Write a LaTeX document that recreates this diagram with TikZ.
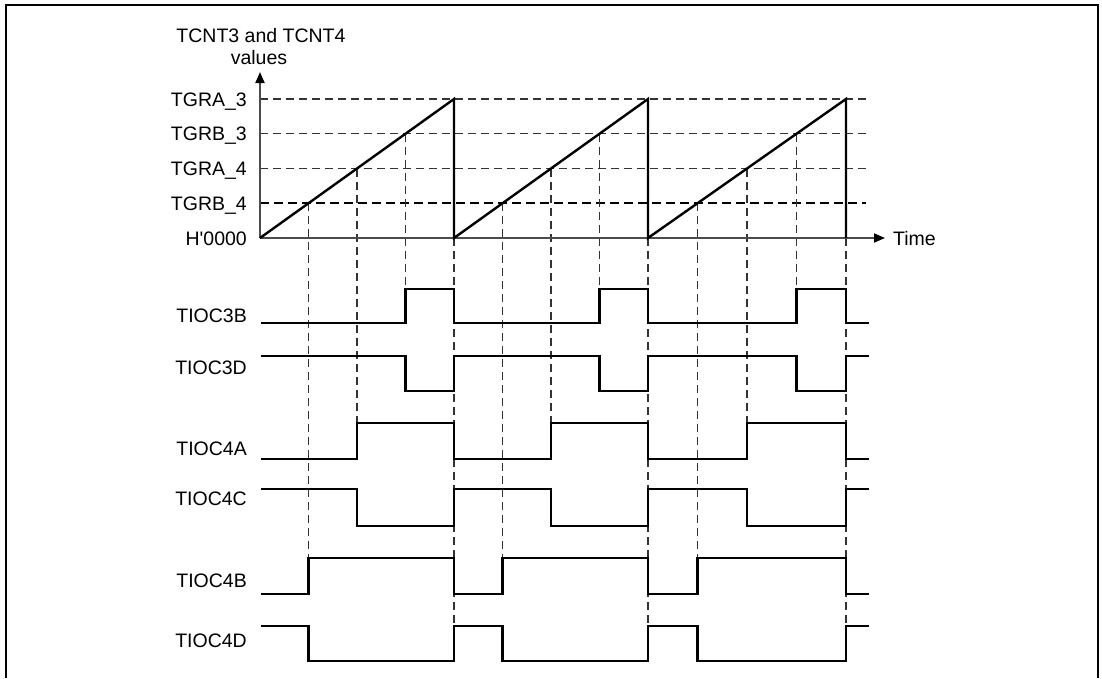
\documentclass[tikz,border=0pt]{standalone}
\usepackage{fontspec}
\setmainfont{Liberation Sans}
\newfontfamily\plainsans{Liberation Sans}
\usetikzlibrary{arrows.meta}
\tikzset{
  wave/.style={line width=2.6pt, black, line join=miter},
  rampline/.style={line width=2.4pt, black, line join=miter},
  axisline/.style={line width=1.8pt, black!70},
  guide/.style={line width=1.2pt, black!80, dash pattern=on 8pt off 5pt},
  guidebold/.style={line width=2pt, black, dash pattern=on 9pt off 5pt},
  lbl/.style={font=\fontsize{19.5}{23}\selectfont, inner sep=0pt, text height=14pt, text depth=0pt},
  frameline/.style={line width=2pt, black},
  tip/.style={-{Triangle[length=11pt,width=9pt,fill=black,color=black]}}
}
\begin{document}
\begin{tikzpicture}[x=1pt,y=-1pt]
\useasboundingbox (0,0) rectangle (1102,678);
% frame (open at the bottom)
\coordinate (fbl) at (6,678);
\coordinate (ftl) at (6,5);
\coordinate (ftr) at (1098,5);
\coordinate (fbr) at (1098,678);
\draw[frameline] (fbl) -- (ftl) -- (ftr) -- (fbr);

% origin and axes ends
\coordinate (O) at (260,238);
\coordinate (ytip) at (260,72);
\coordinate (xtip) at (885,238);

% horizontal level guides
\foreach \y/\nm in {99/a3, 133.5/b3, 168.5/a4} {
  \coordinate (h\nm L) at (260,\y);
  \coordinate (h\nm R) at (866,\y);
  \draw[guide] (h\nm L) -- (h\nm R);
}
\coordinate (hb4L) at (260,203);
\coordinate (hb4R) at (866,203);
\draw[guidebold] (hb4L) -- (hb4R);

% vertical guides from the compare matches
\foreach \cb/\ca/\cc in {308.5/357/405.5, 502.5/551/599.5, 697.5/747/796.5} {
  \coordinate (vb) at (\cb,203);  \coordinate (vbe) at (\cb,558);
  \coordinate (va) at (\ca,168.5); \coordinate (vae) at (\ca,423);
  \coordinate (vc) at (\cc,133.5); \coordinate (vce) at (\cc,289);
  \draw[guide] (vb) -- (vbe);
  \draw[guide] (va) -- (vae);
  \draw[guide] (vc) -- (vce);
}
% vertical guides at counter clear
\foreach \e in {454,648,846} {
  \coordinate (r0) at (\e,238);
  \coordinate (r1) at (\e,661);
  \draw[guide] (r0) -- (r1);
}

% axes
\draw[axisline,tip] (O) -- (ytip);
\draw[axisline,tip] (O) -- (xtip);

% sawtooth
\coordinate (p1) at (454,99); \coordinate (q1) at (454,238);
\coordinate (p2) at (648,99); \coordinate (q2) at (648,238);
\coordinate (p3) at (846,99); \coordinate (q3) at (846,238);
\draw[rampline] (O) -- (p1) -- (q1) -- (p2) -- (q2) -- (p3) -- (q3);

% labels of the axis
\node[lbl] (title1) at (261,35) {TCNT3 and TCNT4};
\node[lbl] (title2) at (259,57) {values};
\node[lbl,anchor=east] (lA3) at (247,99) {TGRA\_3};
\node[lbl,anchor=east] (lB3) at (247,133.5) {TGRB\_3};
\node[lbl,anchor=east] (lA4) at (247,168.5) {TGRA\_4};
\node[lbl,anchor=east] (lB4) at (247,203) {TGRB\_4};
\node[lbl,anchor=east] (l0) at (247,238) {{\plainsans H'0000}};
\node[lbl,anchor=west] (ltime) at (893,238) {Time};

% waveforms
% TIOC3B: hi 289 lo 323
\draw[wave] (261,323) -| (405.5,289) -| (454,323) -| (599.5,289) -| (648,323) -| (796.5,289) -| (846,323) -- (869,323);
% TIOC3D: hi 356 lo 391
\draw[wave] (261,356) -| (405.5,391) -| (454,356) -| (599.5,391) -| (648,356) -| (796.5,391) -| (846,356) -- (869,356);
% TIOC4A: hi 423 lo 459
\draw[wave] (261,459) -| (357,423) -| (454,459) -| (551,423) -| (648,459) -| (747,423) -| (846,459) -- (869,459);
% TIOC4C: hi 489 lo 526
\draw[wave] (261,489) -| (357,526) -| (454,489) -| (551,526) -| (648,489) -| (747,526) -| (846,489) -- (869,489);
% TIOC4B: hi 558 lo 594
\draw[wave] (261,594) -| (308.5,558) -| (454,594) -| (502.5,558) -| (648,594) -| (697.5,558) -| (846,594) -- (869,594);
% TIOC4D: hi 626 lo 661
\draw[wave] (261,626) -| (308.5,661) -| (454,626) -| (502.5,661) -| (648,626) -| (697.5,661) -| (846,626) -- (869,626);

\node[lbl,anchor=east] (w3B) at (247,315) {TIOC3B};
\node[lbl,anchor=east] (w3D) at (247,367) {TIOC3D};
\node[lbl,anchor=east] (w4A) at (247,448) {TIOC4A};
\node[lbl,anchor=east] (w4C) at (247,498) {TIOC4C};
\node[lbl,anchor=east] (w4B) at (247,580) {TIOC4B};
\node[lbl,anchor=east] (w4D) at (247,640) {TIOC4D};
\end{tikzpicture}
\end{document}
